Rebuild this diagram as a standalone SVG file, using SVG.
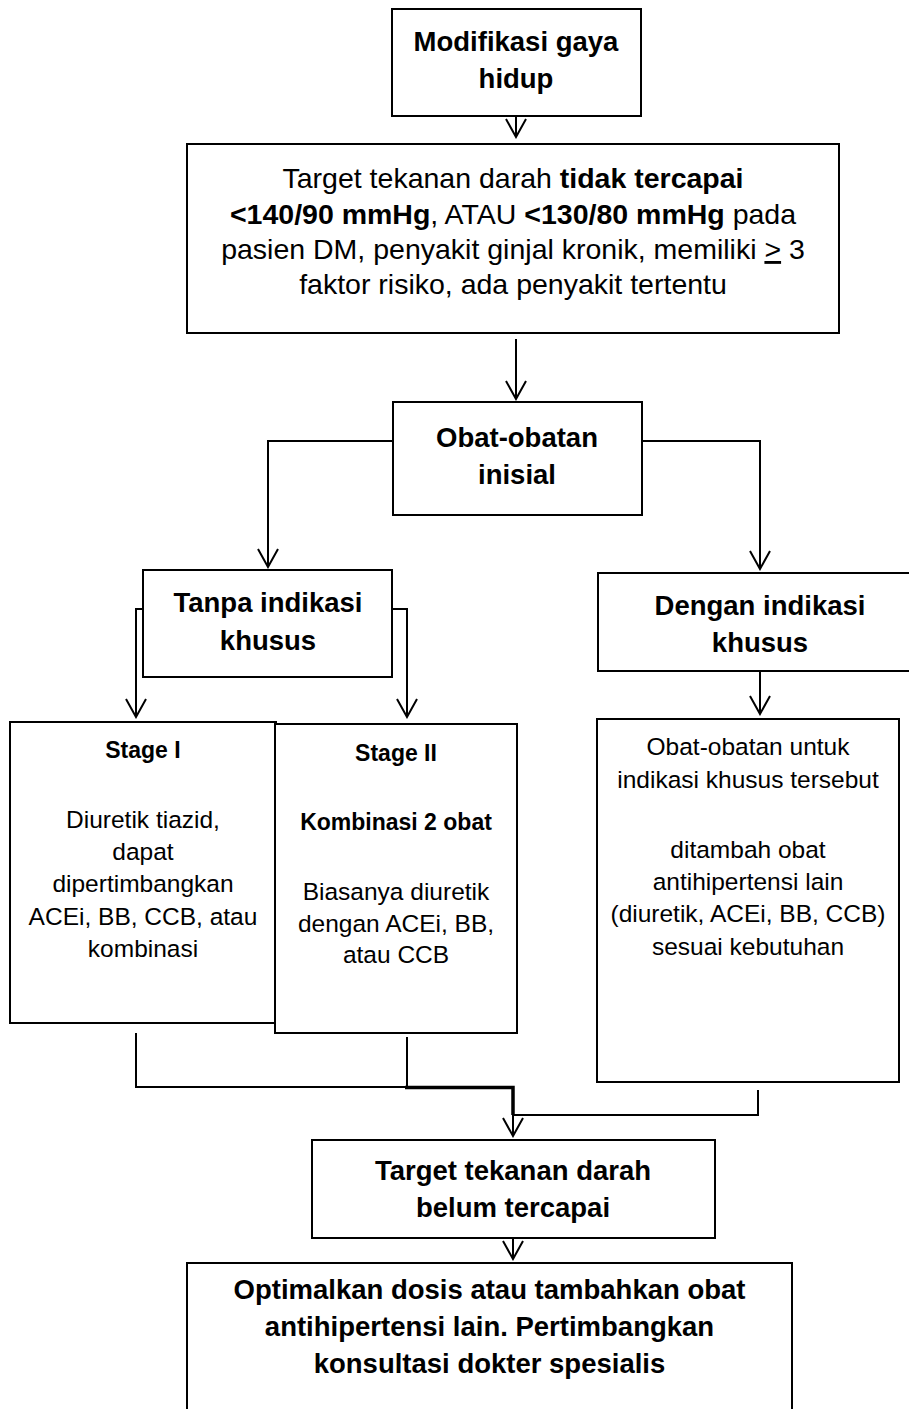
<svg xmlns="http://www.w3.org/2000/svg" width="909" height="1409" viewBox="0 0 909 1409">
<style>
.box{fill:#fff;stroke:#000;stroke-width:2}
.t{font-family:"Liberation Sans",Arial,sans-serif;fill:#000;text-anchor:middle}
.h{font-size:27.5px;font-weight:bold}
.r{font-size:28.5px}
.b{font-size:24.5px}
.s{font-size:23px;font-weight:bold}
.c{fill:none;stroke:#000;stroke-width:2}
.bo{font-weight:bold}
</style>
<defs>
<marker id="arr" markerUnits="userSpaceOnUse" viewBox="-20 -12 22 24" markerWidth="22" markerHeight="24" refX="0" refY="0" orient="auto">
<path d="M-18,-10 L0,0 L-18,10" fill="none" stroke="#000" stroke-width="2"/>
</marker>
</defs>
<rect width="909" height="1409" fill="#fff"/>
<g id="connectors">
<path class="c" d="M516,116 V137" marker-end="url(#arr)"/>
<path class="c" d="M516,339 V399" marker-end="url(#arr)"/>
<path class="c" d="M393,441 H268 V567" marker-end="url(#arr)"/>
<path class="c" d="M642,441 H760 V569" marker-end="url(#arr)"/>
<path class="c" d="M143,609 H136 V717" marker-end="url(#arr)"/>
<path class="c" d="M392,609 H407 V717" marker-end="url(#arr)"/>
<path class="c" d="M760,671 V714" marker-end="url(#arr)"/>
<path class="c" d="M136,1033 V1087 H407"/>
<path class="c" d="M407,1037 V1087"/>
<path fill="none" stroke="#000" stroke-width="3.5" d="M405,1087.5 H513 V1115"/>
<path class="c" d="M513,1112 V1136" marker-end="url(#arr)"/>
<path class="c" d="M758,1090 V1115 H513"/>
<path class="c" d="M513,1238 V1259" marker-end="url(#arr)"/>
</g>
<g id="n1">
<rect class="box" x="392" y="9" width="249" height="107"/>
<text class="t h" x="516" y="51">Modifikasi gaya</text>
<text class="t h" x="516" y="88">hidup</text>
</g>
<g id="n2">
<rect class="box" x="187" y="144" width="652" height="189"/>
<text class="t r" x="513" y="188">Target tekanan darah <tspan class="bo">tidak tercapai</tspan></text>
<text class="t r" x="513" y="224"><tspan class="bo">&lt;140/90 mmHg</tspan>, ATAU <tspan class="bo">&lt;130/80 mmHg</tspan> pada</text>
<text class="t r" x="513" y="259">pasien DM, penyakit ginjal kronik, memiliki <tspan text-decoration="underline">&gt;</tspan> 3</text>
<text class="t r" x="513" y="294">faktor risiko, ada penyakit tertentu</text>
</g>
<g id="n3">
<rect class="box" x="393" y="402" width="249" height="113"/>
<text class="t h" x="517" y="447">Obat-obatan</text>
<text class="t h" x="517" y="484">inisial</text>
</g>
<g id="n4">
<rect class="box" x="143" y="570" width="249" height="107"/>
<text class="t h" x="268" y="612">Tanpa indikasi</text>
<text class="t h" x="268" y="650">khusus</text>
</g>
<g id="n5">
<rect class="box" x="598" y="573" width="320" height="98"/>
<text class="t h" x="760" y="615">Dengan indikasi</text>
<text class="t h" x="760" y="652">khusus</text>
</g>
<g id="n6">
<rect class="box" x="10" y="722" width="266" height="301"/>
<text class="t s" x="143" y="758">Stage I</text>
<text class="t b" x="143" y="828">Diuretik tiazid,</text>
<text class="t b" x="143" y="860">dapat</text>
<text class="t b" x="143" y="892">dipertimbangkan</text>
<text class="t b" x="143" y="925">ACEi, BB, CCB, atau</text>
<text class="t b" x="143" y="957">kombinasi</text>
</g>
<g id="n7">
<rect class="box" x="275" y="724" width="242" height="309"/>
<text class="t s" x="396" y="761">Stage II</text>
<text class="t s" x="396" y="830">Kombinasi 2 obat</text>
<text class="t b" x="396" y="900">Biasanya diuretik</text>
<text class="t b" x="396" y="932">dengan ACEi, BB,</text>
<text class="t b" x="396" y="963">atau CCB</text>
</g>
<g id="n8">
<rect class="box" x="597" y="719" width="302" height="363"/>
<text class="t b" x="748" y="755">Obat-obatan untuk</text>
<text class="t b" x="748" y="788">indikasi khusus tersebut</text>
<text class="t b" x="748" y="858">ditambah obat</text>
<text class="t b" x="748" y="890">antihipertensi lain</text>
<text class="t b" x="748" y="922">(diuretik, ACEi, BB, CCB)</text>
<text class="t b" x="748" y="955">sesuai kebutuhan</text>
</g>
<g id="n9">
<rect class="box" x="312" y="1140" width="403" height="98"/>
<text class="t h" x="513" y="1180">Target tekanan darah</text>
<text class="t h" x="513" y="1217">belum tercapai</text>
</g>
<g id="n10">
<rect class="box" x="187" y="1263" width="605" height="170"/>
<text class="t h" x="489.5" y="1299">Optimalkan dosis atau tambahkan obat</text>
<text class="t h" x="489.5" y="1336">antihipertensi lain. Pertimbangkan</text>
<text class="t h" x="489.5" y="1373">konsultasi dokter spesialis</text>
</g>
</svg>
